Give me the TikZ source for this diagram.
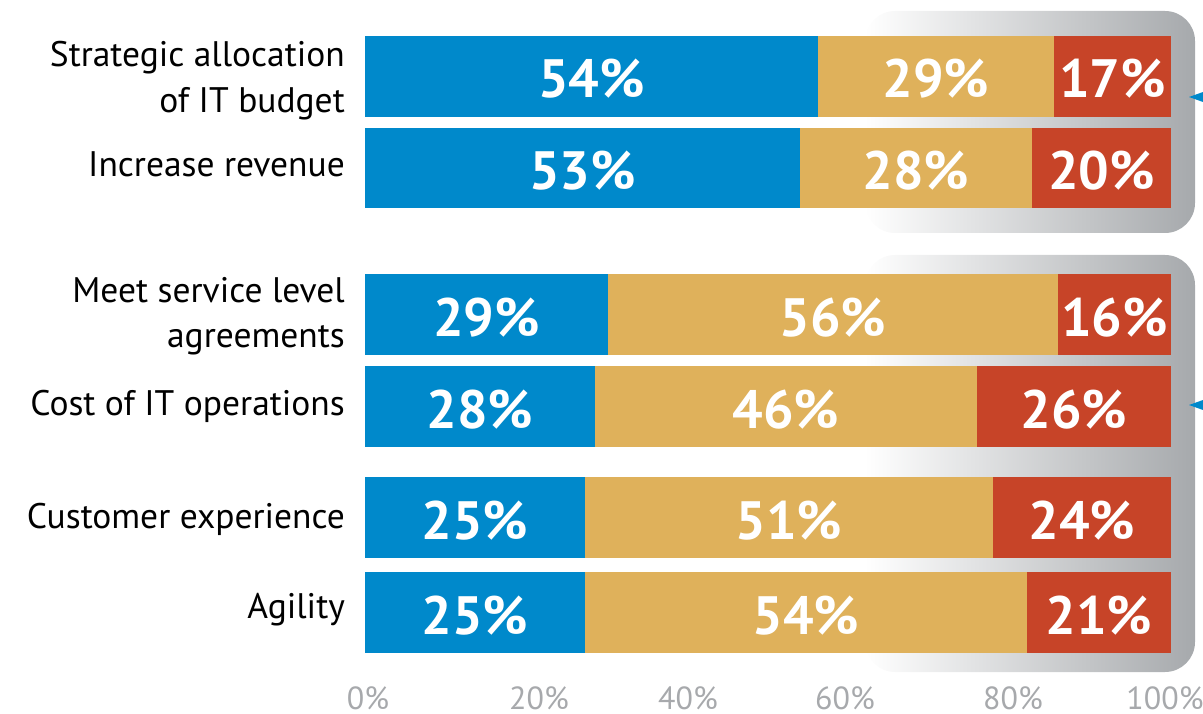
\documentclass[tikz,border=0pt]{standalone}
\usepackage{fontspec}
\setmainfont{PT Sans}
\definecolor{cblue}{HTML}{0089CB}
\definecolor{ctan}{HTML}{DFB15B}
\definecolor{cred}{HTML}{C74428}
\definecolor{cgray}{HTML}{A6A9AC}
\definecolor{caxis}{HTML}{A7A9AC}
\begin{document}
\begin{tikzpicture}[x=1pt,y=-1pt,
  pct/.style={text=white,font=\fontsize{54}{54}\selectfont\bfseries,anchor=base,inner sep=0pt},
  cat/.style={anchor=base east,font=\fontsize{35.5}{35.5}\selectfont,text=black,inner sep=0pt},
  ax/.style={anchor=base,text=caxis,font=\fontsize{32}{32}\selectfont,inner sep=0pt},
  bracket/.style={left color=white,right color=cgray,rounded corners=30pt},
  pointer/.style={fill=cblue}]
\useasboundingbox (0,0) rectangle (1203,714);
% grey brackets
\shade[bracket] (865,11) rectangle (1195,233);
\shade[bracket] (865,255) rectangle (1195,672);
\coordinate (p1) at (1189,97);
\coordinate (p2) at (1189,405);
\fill[pointer] (p1) -- ++(14,-5) -- ++(0,10) -- cycle;
\fill[pointer] (p2) -- ++(14,-5) -- ++(0,10) -- cycle;
% bars
\foreach \i/\ya/\yb/\xb/\xt/\pa/\pb/\pc in {
  1/36/117/818/1054/54/29/17,
  2/128/208/800/1032/53/28/20,
  3/274/355/608/1058/29/56/16,
  4/366/447/595/977/28/46/26,
  5/477/558/585/993/25/51/24,
  6/572/653/585/1027/25/54/21}{
  \fill[cblue] (365,\ya) rectangle (\xb,\yb);
  \fill[ctan] (\xb,\ya) rectangle (\xt,\yb);
  \fill[cred] (\xt,\ya) rectangle (1171,\yb);
  \node[pct] (pa\i) at ({(365+\xb)/2},{(\ya+\yb)/2+21.5}) {\pa\%};
  \node[pct] (pb\i) at ({(\xb+\xt)/2},{(\ya+\yb)/2+21.5}) {\pb\%};
  \node[pct] (pc\i) at ({(\xt+1171)/2},{(\ya+\yb)/2+21.5}) {\pc\%};
}
% category labels
\node[cat] (c1a) at (345,67) {Strategic allocation};
\node[cat] (c1b) at (345,113) {of IT budget};
\node[cat] (c2) at (345,177) {Increase revenue};
\node[cat] (c3a) at (345,303) {Meet service level};
\node[cat] (c3b) at (345,347) {agreements};
\node[cat] (c4) at (345,415) {Cost of IT operations};
\node[cat] (c5) at (345,528) {Customer experience};
\node[cat] (c6) at (345,618) {Agility};
% axis
\node[ax] (a0) at (368,709) {0\%};
\node[ax] (a20) at (539,709) {20\%};
\node[ax] (a40) at (688,709) {40\%};
\node[ax] (a60) at (845,709) {60\%};
\node[ax] (a80) at (1013,709) {80\%};
\node[ax] (a100) at (1165,709) {100\%};
\end{tikzpicture}
\end{document}
